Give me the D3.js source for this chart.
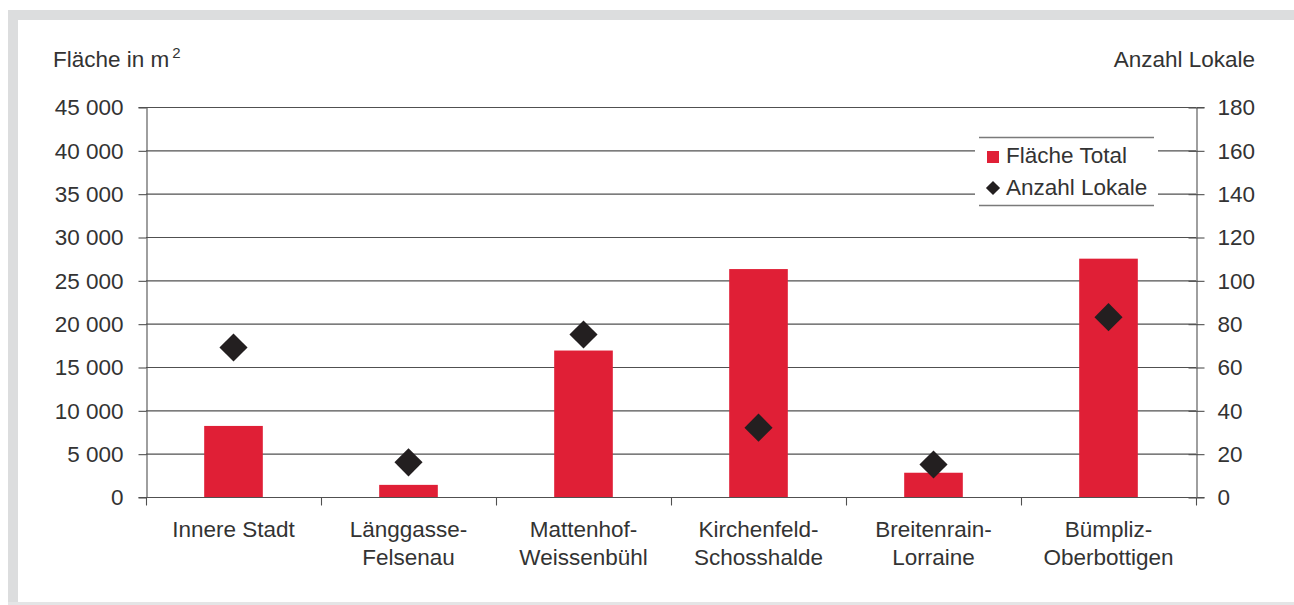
<!DOCTYPE html>
<html>
<head>
<meta charset="utf-8">
<script src="https://cdn.jsdelivr.net/npm/d3@7"></script>
<style>
  html, body { margin: 0; padding: 0; background: #fff; }
  svg { display: block; }
  text { font-family: "Liberation Sans", Arial, sans-serif; fill: #333; }
</style>
</head>
<body>
<svg id="chart" width="1294" height="605"></svg>
<script>
const categories = [
  ["Innere Stadt"],
  ["Länggasse-", "Felsenau"],
  ["Mattenhof-", "Weissenbühl"],
  ["Kirchenfeld-", "Schosshalde"],
  ["Breitenrain-", "Lorraine"],
  ["Bümpliz-", "Oberbottigen"]
];
const flaecheTotal = [8200, 1400, 16900, 26300, 2800, 27500];
const anzahlLokale = [69, 16, 75, 32, 15, 83];
const leftTicks = [0, 5000, 10000, 15000, 20000, 25000, 30000, 35000, 40000, 45000];
const rightTicks = [0, 20, 40, 60, 80, 100, 120, 140, 160, 180];
const seriesNames = ["Fläche Total", "Anzahl Lokale"];

const svg = d3.select("#chart");
const W = 1294, H = 605;
const pL = 146, pR = 1196, pT = 107, pB = 497;
const lineColor = "#505050";
const barColor = "#E01F36";
const diamondColor = "#231F20";
const textColor = "#333";
const fs = 22.5;

// frame
svg.append("rect").attr("x", 8).attr("y", 10).attr("width", W - 8).attr("height", 10).attr("fill", "#dcddde");
svg.append("rect").attr("x", 8).attr("y", 10).attr("width", 10).attr("height", H - 10).attr("fill", "#dcddde");
svg.append("rect").attr("x", 8).attr("y", 602).attr("width", W - 8).attr("height", 3).attr("fill", "#e4e5e6");

const x = d3.scaleBand().domain(d3.range(categories.length)).range([pL, pR]).padding(0);
const yL = d3.scaleLinear().domain([0, 45000]).range([pB, pT]);
const yR = d3.scaleLinear().domain([0, 180]).range([pB, pT]);

const fmt = v => d3.format(",")(v).replace(/,/g, " ");

// gridlines
svg.append("g").selectAll("line").data(leftTicks.filter(d => d > 0)).join("line")
  .attr("x1", pL).attr("x2", pR)
  .attr("y1", d => yL(d) + 0.5).attr("y2", d => yL(d) + 0.5)
  .attr("stroke", lineColor).attr("stroke-width", 1.1);

// left axis
const gL = svg.append("g").attr("transform", `translate(${pL + 0.5},0)`)
  .call(d3.axisLeft(yL).tickValues(leftTicks).tickFormat(fmt).tickSize(8).tickPadding(15));
gL.select(".domain").attr("stroke", lineColor).attr("stroke-width", 1.1);
gL.selectAll(".tick line").attr("stroke", lineColor).attr("stroke-width", 1.1).attr("transform", "translate(0,0.5)");
gL.selectAll(".tick text").attr("font-size", fs).attr("fill", textColor).attr("font-family", "Liberation Sans, Arial, sans-serif").attr("dy", "0.35em").attr("y", 0);

// right axis
const gR = svg.append("g").attr("transform", `translate(${pR + 0.5},0)`)
  .call(d3.axisRight(yR).tickValues(rightTicks).tickSize(8).tickPadding(13));
gR.select(".domain").attr("stroke", lineColor).attr("stroke-width", 1.1);
gR.selectAll(".tick line").attr("stroke", lineColor).attr("stroke-width", 1.1).attr("x1", -8).attr("transform", "translate(0,0.5)");
gR.selectAll(".tick text").attr("font-size", fs).attr("fill", textColor).attr("font-family", "Liberation Sans, Arial, sans-serif").attr("dy", "0.35em").attr("y", 0);

// bars
const bw = x.bandwidth() * 0.335;
svg.append("g").selectAll("rect").data(flaecheTotal).join("rect")
  .attr("x", (d, i) => x(i) + x.bandwidth() / 2 - bw / 2)
  .attr("width", bw)
  .attr("y", d => yL(d))
  .attr("height", d => pB - yL(d))
  .attr("fill", barColor);

// x axis
const gX = svg.append("g").attr("transform", `translate(0,${pB + 0.5})`);
gX.append("line").attr("x1", pL).attr("x2", pR).attr("stroke", lineColor).attr("stroke-width", 1.1);
gX.selectAll("line.tk").data(d3.range(categories.length + 1)).join("line").attr("class", "tk")
  .attr("x1", i => (i < categories.length ? x(i) : pR) + 0.5)
  .attr("x2", i => (i < categories.length ? x(i) : pR) + 0.5)
  .attr("y1", 0).attr("y2", 8).attr("stroke", lineColor).attr("stroke-width", 1.1);
gX.selectAll("text").data(categories).join("text")
  .attr("text-anchor", "middle").attr("font-size", fs)
  .attr("transform", (d, i) => `translate(${x(i) + x.bandwidth() / 2},39.5)`)
  .selectAll("tspan").data(d => d).join("tspan")
  .attr("x", 0).attr("y", (d, j) => j * 27.5).text(d => d);

// diamonds
const sym = d3.symbol().type(d3.symbolSquare).size(395);
svg.append("g").selectAll("path").data(anzahlLokale).join("path")
  .attr("d", sym)
  .attr("transform", (d, i) => `translate(${x(i) + x.bandwidth() / 2},${yR(d)}) rotate(45)`)
  .attr("fill", diamondColor);

// axis titles
svg.append("text").attr("x", 53).attr("y", 67).attr("font-size", fs)
  .text("Fläche in m").append("tspan").attr("font-size", 15).attr("dx", 3).attr("dy", -9).text("2");
svg.append("text").attr("x", 1255).attr("y", 67).attr("font-size", fs).attr("text-anchor", "end").text("Anzahl Lokale");

// legend
const lg = svg.append("g");
lg.append("rect").attr("x", 975).attr("y", 137).attr("width", 183).attr("height", 69).attr("fill", "#fff");
lg.append("line").attr("x1", 979).attr("x2", 1154).attr("y1", 137.5).attr("y2", 137.5).attr("stroke", "#7a7a7a").attr("stroke-width", 1.3);
lg.append("line").attr("x1", 979).attr("x2", 1154).attr("y1", 205.5).attr("y2", 205.5).attr("stroke", "#7a7a7a").attr("stroke-width", 1.3);
lg.append("rect").attr("x", 987).attr("y", 151).attr("width", 12).attr("height", 12).attr("fill", barColor);
lg.append("path").attr("d", d3.symbol().type(d3.symbolSquare).size(100))
  .attr("transform", "translate(993,188) rotate(45)").attr("fill", diamondColor);
lg.selectAll("text").data(seriesNames).join("text")
  .attr("x", 1006).attr("y", (d, i) => 163 + i * 32).attr("font-size", fs).text(d => d);
</script>
</body>
</html>
